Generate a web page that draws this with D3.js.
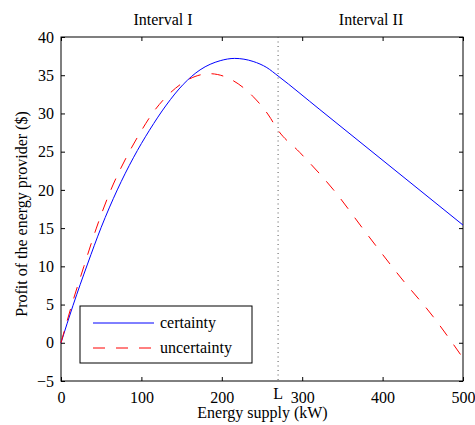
<!DOCTYPE html>
<html><head><meta charset="utf-8">
<script src="https://cdn.jsdelivr.net/npm/d3@7"></script>
<style>body{margin:0;background:#fff;} text{font-family:"Liberation Serif","Times New Roman",serif;}</style>
</head><body>
<svg id="c" width="475" height="425"></svg>
<script>
const certaintyX = [0,15,33,50,70,90,110,131,152,173,198,216,239,256,270,322,500];
const certaintyY = [0,4.9,10.3,15.1,20,24.2,27.8,31.1,33.8,35.7,36.9,37.2,36.8,36,34.9,30.5,15.4];
const uncertaintyX = [0,13.5,28.5,44,62,82,98,115,134,156,185,214,239,258,270,297,339,380,422,463,500];
const uncertaintyY = [0,5,10,15,20,24.4,27.4,30.2,32.5,34.3,35.2,34.3,32.2,29.8,27.8,24.9,20,14.3,8.6,3.4,-2];
const xTicks = [0,100,200,300,400,500];
const yTicks = [-5,0,5,10,15,20,25,30,35,40];
const markL = 270;
const legendLabels = ["certainty","uncertainty"];
const intervalLabels = ["Interval I","Interval II"];

const svg = d3.select("#c");
const L = 61, R = 463, T = 37, B = 381;
const x = d3.scaleLinear().domain([0,500]).range([L,R]);
const y = d3.scaleLinear().domain([-5,40]).range([B,T]);

const fs = 16;
svg.append("rect").attr("x",L).attr("y",T).attr("width",R-L).attr("height",B-T)
  .attr("fill","none").attr("stroke","#000").attr("stroke-width",1);

const xb = svg.append("g").attr("transform",`translate(0,${B})`)
  .call(d3.axisBottom(x).tickValues(xTicks).tickSizeInner(-4).tickSizeOuter(0).tickPadding(10).tickFormat(d3.format("d")));
const xt = svg.append("g").attr("transform",`translate(0,${T})`)
  .call(d3.axisTop(x).tickValues(xTicks).tickSizeInner(-4).tickSizeOuter(0).tickFormat(""));
const yl = svg.append("g").attr("transform",`translate(${L},0)`)
  .call(d3.axisLeft(y).tickValues(yTicks).tickSizeInner(-4).tickSizeOuter(0).tickPadding(7).tickFormat(d=>d<0?"\u2212"+Math.abs(d):d));
const yr = svg.append("g").attr("transform",`translate(${R},0)`)
  .call(d3.axisRight(y).tickValues(yTicks).tickSizeInner(-4).tickSizeOuter(0).tickFormat(""));
[xb,xt,yl,yr].forEach(g=>{
  g.select(".domain").remove();
  g.selectAll("line").attr("stroke","#000");
  g.selectAll("text").attr("font-size",fs).attr("fill","#000").style("font-family","Liberation Serif");
});
xb.selectAll("text").attr("dy",null).attr("y",21.5);

svg.append("line").attr("x1",x(markL)).attr("x2",x(markL)).attr("y1",T).attr("y2",B)
  .attr("stroke","#555").attr("stroke-width",1).attr("stroke-dasharray","1,3.5");
svg.append("text").attr("x",x(markL)).attr("y",398.5).attr("text-anchor","middle")
  .attr("font-size",fs).text("L");

const lineGen = d3.line().curve(d3.curveMonotoneX).x(d=>x(d[0])).y(d=>y(d[1]));
svg.append("path").datum(d3.zip(certaintyX,certaintyY)).attr("d",lineGen)
  .attr("fill","none").attr("stroke","#0000ff").attr("stroke-width",1);
svg.append("path").datum(d3.zip(uncertaintyX,uncertaintyY)).attr("d",lineGen)
  .attr("fill","none").attr("stroke","#ff0000").attr("stroke-width",1).attr("stroke-dasharray","12,11");

svg.append("text").attr("x",163).attr("y",25).attr("text-anchor","middle").attr("font-size",fs).text(intervalLabels[0]);
svg.append("text").attr("x",371).attr("y",25).attr("text-anchor","middle").attr("font-size",fs).text(intervalLabels[1]);

svg.append("text").attr("x",262.5).attr("y",418).attr("text-anchor","middle").attr("font-size",fs).text("Energy supply (kW)");
svg.append("text").attr("transform",`translate(27,214) rotate(-90)`).attr("text-anchor","middle")
  .attr("font-size",fs).text("Profit of the energy provider ($)");

const lg = svg.append("g");
lg.append("rect").attr("x",80).attr("y",306).attr("width",172).attr("height",57)
  .attr("fill","#fff").attr("stroke","#000").attr("stroke-width",1);
const colors = ["#0000ff","#ff0000"];
const dashes = [null,"12,11"];
legendLabels.forEach((t,i)=>{
  const yy = 323 + i*25;
  lg.append("line").attr("x1",93).attr("x2",154).attr("y1",yy).attr("y2",yy)
    .attr("stroke",colors[i]).attr("stroke-width",1).attr("stroke-dasharray",dashes[i]);
  lg.append("text").attr("x",160).attr("y",yy+5).attr("font-size",fs).text(t);
});
</script>
</body></html>
